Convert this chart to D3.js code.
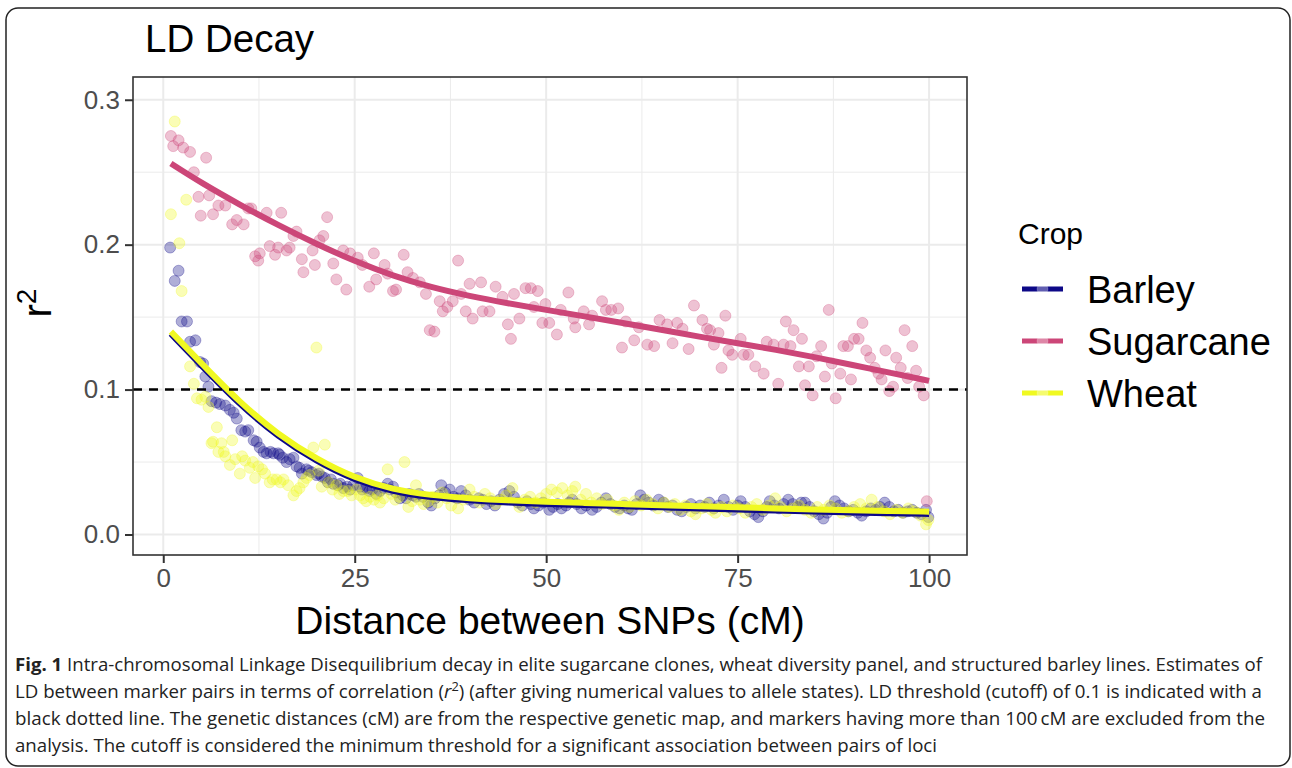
<!DOCTYPE html>
<html>
<head>
<meta charset="utf-8">
<script src="https://cdn.jsdelivr.net/npm/d3@7"></script>
<style>
  body { margin: 0; background: #fff; }
  svg { display: block; }
</style>
</head>
<body>
<svg id="svg" width="1292" height="768"></svg>
<script>
// data: [distance (cM), r2]
let barleyPts = [
  [0.9,0.198],[1.5,0.175],[2.0,0.182],[2.4,0.147],[3.1,0.147],[3.5,0.133],[4.2,0.134],[4.8,0.119],[5.2,0.118],[5.5,0.109],
  [5.9,0.102],[6.3,0.092],[6.9,0.091],[7.4,0.090],[8.1,0.089],[8.7,0.086],[9.2,0.084],[9.6,0.080],[10.2,0.072],[10.7,0.071],
  [11.1,0.072],[11.8,0.065],[12.2,0.064],[12.6,0.060],[13.1,0.057],[13.5,0.056],[14.0,0.057],[14.4,0.056],[15.0,0.056],[15.2,0.055],
  [15.6,0.053],[16.1,0.050],[16.5,0.052],[17.0,0.053],[17.4,0.047],[17.8,0.046],[18.1,0.042],[18.7,0.045],[19.0,0.044],[19.4,0.043],
  [20.0,0.041],[20.3,0.042],[20.7,0.040],[21.1,0.039],[21.5,0.036],[21.9,0.038],[22.2,0.035],[22.8,0.034],[23.1,0.035],[23.5,0.032],
  [24.0,0.033],[24.4,0.031],[24.8,0.034],[25.4,0.039],[25.7,0.033],[26.0,0.031],[26.5,0.032],[26.9,0.030],[27.3,0.031],[27.8,0.028],
  [28.3,0.030],[28.8,0.032],[29.3,0.035],[29.6,0.031],[30.0,0.033],[30.4,0.029],[30.9,0.025],[31.3,0.027],[31.7,0.025],[32.1,0.028],
  [32.6,0.027],[33.0,0.026],[33.4,0.028],[33.9,0.026],[34.6,0.022],[35.0,0.020],[35.5,0.025],[36.0,0.027],[36.3,0.034],[36.8,0.029],
  [37.4,0.031],[37.9,0.026],[38.4,0.025],[38.9,0.030],[39.5,0.027],[40.0,0.024],[40.6,0.022],[41.2,0.025],[41.7,0.024],[42.2,0.021],
  [42.8,0.023],[43.3,0.020],[43.9,0.024],[44.5,0.028],[45.2,0.030],[45.8,0.026],[46.3,0.022],[46.9,0.020],[47.5,0.023],[48.0,0.021],
  [48.4,0.018],[49.0,0.020],[49.6,0.022],[50.4,0.017],[50.9,0.019],[51.5,0.021],[52.0,0.018],[52.6,0.020],[53.0,0.022],[53.4,0.024],
  [54.0,0.021],[54.6,0.018],[55.2,0.020],[56.0,0.017],[56.6,0.019],[57.2,0.022],[57.8,0.025],[58.4,0.021],[59.0,0.019],[59.6,0.018],
  [60.2,0.020],[60.7,0.018],[61.2,0.017],[61.8,0.021],[62.3,0.027],[62.8,0.024],[63.4,0.022],[64.0,0.020],[64.7,0.024],[65.3,0.022],
  [65.9,0.019],[66.5,0.020],[67.1,0.017],[67.7,0.016],[68.3,0.019],[68.9,0.021],[69.5,0.018],[70.1,0.020],[70.7,0.019],[71.3,0.022],
  [71.9,0.018],[72.5,0.020],[73.2,0.024],[73.8,0.019],[74.4,0.017],[75.0,0.020],[75.4,0.023],[76.0,0.019],[76.6,0.016],[77.2,0.014],
  [77.7,0.012],[78.3,0.016],[78.8,0.019],[79.2,0.023],[79.8,0.020],[80.4,0.018],[81.0,0.021],[81.6,0.024],[82.2,0.021],[82.8,0.019],
  [83.3,0.022],[83.8,0.022],[84.4,0.019],[85.0,0.016],[85.6,0.014],[86.2,0.011],[86.7,0.015],[87.2,0.019],[87.7,0.023],[88.3,0.020],
  [88.9,0.018],[89.5,0.016],[90.1,0.017],[90.7,0.015],[91.2,0.013],[91.8,0.016],[92.4,0.018],[93.0,0.017],[93.6,0.019],[94.2,0.022],
  [94.8,0.019],[95.4,0.016],[96.0,0.017],[96.6,0.015],[97.2,0.016],[97.8,0.017],[98.4,0.015],[99.0,0.014],[99.6,0.017],[99.9,0.012]
];

let sugarcanePts = [
  [1.0,0.275],[1.3,0.268],[2.0,0.272],[2.6,0.267],[3.5,0.264],[4.0,0.250],[4.6,0.233],[4.9,0.220],[5.6,0.260],[6.0,0.234],
  [6.5,0.221],[7.2,0.227],[8.1,0.227],[9.0,0.214],[9.6,0.217],[10.5,0.214],[11.1,0.225],[11.5,0.225],[12.0,0.192],[12.4,0.189],
  [12.6,0.194],[13.5,0.222],[13.9,0.199],[14.6,0.193],[15.0,0.198],[15.4,0.222],[16.1,0.196],[16.5,0.198],[17.0,0.206],[17.4,0.209],
  [18.1,0.190],[18.3,0.181],[19.5,0.196],[19.8,0.186],[20.4,0.203],[20.9,0.206],[21.4,0.219],[22.2,0.187],[22.6,0.176],[23.5,0.196],
  [23.9,0.169],[24.4,0.194],[25.4,0.191],[26.0,0.186],[26.9,0.171],[27.5,0.194],[27.8,0.176],[28.9,0.186],[29.3,0.180],[30.0,0.168],
  [30.4,0.169],[31.4,0.193],[31.9,0.181],[32.6,0.177],[33.5,0.174],[34.3,0.166],[34.8,0.141],[35.4,0.140],[36.1,0.161],[36.5,0.154],
  [37.1,0.157],[37.8,0.161],[38.5,0.189],[38.9,0.166],[39.5,0.154],[40.0,0.173],[40.4,0.149],[41.5,0.174],[41.7,0.154],[42.6,0.154],
  [43.4,0.171],[44.3,0.164],[45.0,0.145],[45.4,0.135],[45.8,0.166],[46.5,0.149],[47.3,0.170],[48.0,0.170],[48.4,0.157],[48.9,0.168],
  [49.5,0.146],[49.9,0.159],[50.4,0.146],[51.4,0.138],[51.9,0.155],[52.9,0.167],[53.6,0.149],[53.8,0.143],[54.9,0.154],[55.6,0.145],
  [56.0,0.151],[57.3,0.161],[57.8,0.155],[58.5,0.155],[59.4,0.156],[59.9,0.129],[60.4,0.147],[61.5,0.134],[62.1,0.143],[63.2,0.131],
  [64.1,0.130],[64.8,0.148],[65.8,0.145],[66.5,0.132],[67.1,0.146],[67.8,0.142],[68.6,0.128],[69.3,0.158],[70.4,0.148],[71.0,0.142],
  [71.4,0.141],[71.9,0.131],[72.5,0.139],[72.9,0.115],[73.4,0.151],[73.8,0.127],[74.3,0.124],[75.4,0.135],[75.8,0.124],[76.4,0.124],
  [77.3,0.116],[78.4,0.111],[78.8,0.133],[79.7,0.131],[80.3,0.104],[81.0,0.131],[81.3,0.147],[81.9,0.130],[82.3,0.141],[83.0,0.116],
  [83.4,0.135],[83.8,0.103],[84.3,0.116],[84.8,0.096],[85.3,0.123],[85.9,0.130],[86.4,0.109],[86.9,0.155],[87.3,0.118],[87.8,0.094],
  [88.4,0.111],[88.8,0.130],[89.4,0.130],[89.8,0.107],[90.2,0.135],[90.8,0.135],[91.3,0.146],[91.8,0.127],[92.3,0.122],[92.9,0.115],
  [93.4,0.111],[93.8,0.107],[94.3,0.127],[94.8,0.099],[95.3,0.102],[95.7,0.122],[96.3,0.115],[96.8,0.141],[97.2,0.108],[97.8,0.130],
  [98.3,0.113],[98.7,0.102],[99.3,0.096],[99.7,0.023]
];

let wheatPts = [
  [1.0,0.221],[1.5,0.285],[2.1,0.201],[2.4,0.168],[3.0,0.231],[3.5,0.116],[4.0,0.104],[4.4,0.094],[5.0,0.093],[5.5,0.095],
  [5.9,0.088],[6.3,0.063],[6.5,0.064],[7.0,0.074],[7.2,0.057],[7.6,0.063],[7.9,0.057],[8.1,0.054],[8.7,0.048],[9.0,0.065],
  [9.4,0.052],[10.0,0.042],[10.3,0.054],[10.7,0.051],[11.3,0.046],[11.7,0.050],[12.0,0.039],[12.4,0.047],[12.9,0.045],[13.3,0.042],
  [13.9,0.036],[14.3,0.038],[14.8,0.038],[15.3,0.036],[15.7,0.038],[16.3,0.034],[17.0,0.027],[17.4,0.030],[17.8,0.032],[18.3,0.036],
  [18.7,0.039],[19.1,0.041],[19.6,0.060],[20.0,0.129],[20.3,0.044],[20.7,0.033],[21.1,0.062],[21.6,0.036],[22.1,0.031],[22.6,0.034],
  [23.0,0.028],[23.5,0.030],[24.1,0.030],[24.6,0.027],[25.2,0.031],[25.7,0.027],[26.1,0.025],[26.5,0.023],[27.0,0.026],[27.5,0.024],
  [28.0,0.027],[28.3,0.022],[28.8,0.025],[29.3,0.045],[29.8,0.028],[30.3,0.024],[30.8,0.026],[31.5,0.050],[32.0,0.019],[32.5,0.023],
  [33.0,0.034],[33.5,0.024],[34.0,0.021],[34.6,0.023],[35.2,0.026],[35.8,0.022],[36.4,0.029],[37.0,0.025],[37.6,0.020],[38.5,0.018],
  [39.2,0.024],[40.0,0.031],[40.6,0.026],[41.3,0.022],[42.0,0.028],[42.7,0.025],[43.4,0.021],[44.1,0.024],[44.8,0.027],[45.6,0.032],
  [46.5,0.019],[47.2,0.024],[47.9,0.026],[48.6,0.022],[49.3,0.025],[50.0,0.028],[50.7,0.031],[51.4,0.029],[52.1,0.032],[52.8,0.027],
  [53.4,0.030],[53.8,0.033],[54.5,0.024],[55.2,0.028],[55.9,0.022],[56.6,0.025],[57.3,0.021],[58.0,0.024],[58.8,0.020],[59.5,0.017],
  [60.2,0.022],[60.9,0.019],[61.6,0.023],[62.4,0.020],[63.1,0.024],[63.9,0.021],[64.6,0.018],[65.4,0.022],[66.1,0.019],[66.8,0.021],
  [67.5,0.017],[68.2,0.020],[68.9,0.016],[69.5,0.014],[70.3,0.018],[71.0,0.021],[71.6,0.017],[72.1,0.015],[72.9,0.019],[73.6,0.016],
  [74.4,0.020],[75.2,0.018],[76.0,0.015],[76.8,0.019],[77.5,0.021],[78.3,0.017],[79.1,0.020],[79.9,0.025],[80.6,0.019],[81.4,0.016],
  [82.2,0.018],[83.0,0.020],[83.8,0.017],[84.6,0.015],[85.4,0.019],[86.2,0.017],[87.0,0.020],[87.8,0.018],[88.6,0.015],[89.4,0.016],
  [90.2,0.019],[91.0,0.021],[91.8,0.018],[92.5,0.024],[93.3,0.019],[94.1,0.016],[94.9,0.014],[95.7,0.017],[96.5,0.015],[97.3,0.018],
  [98.1,0.016],[98.9,0.013],[99.6,0.007],[99.9,0.010]
];

// fitted (loess) curves
let fitX = [1, 5, 10, 15, 20, 25, 30, 35, 40, 45, 50, 55, 60, 65, 70, 75, 80, 85, 90, 95, 100];
let barleyFit = [0.1385, 0.1165, 0.0895, 0.0675, 0.0505, 0.0375, 0.0295, 0.0255, 0.0235, 0.022, 0.021, 0.0203, 0.0195, 0.0187, 0.018, 0.0173, 0.0165, 0.0158, 0.0152, 0.0147, 0.0142];
let sugarcaneFit = [0.256, 0.2425, 0.2275, 0.2135, 0.2005, 0.1885, 0.1785, 0.1705, 0.1645, 0.1595, 0.155, 0.1505, 0.146, 0.1413, 0.1365, 0.132, 0.1275, 0.1225, 0.117, 0.1115, 0.106];
let wheatFit = [0.140, 0.118, 0.091, 0.069, 0.052, 0.039, 0.031, 0.027, 0.025, 0.0235, 0.0226, 0.0218, 0.021, 0.0202, 0.0195, 0.0188, 0.018, 0.0173, 0.0167, 0.0162, 0.0157];

let crops = ['Barley', 'Sugarcane', 'Wheat'];
let cropColors = ['#0D0887', '#CC4678', '#F0F921'];
let xTicks = [0, 25, 50, 75, 100];
let yTicks = [0, 0.1, 0.2, 0.3];
let cutoff = 0.1;

let captionLines = [
  'Intra-chromosomal Linkage Disequilibrium decay in elite sugarcane clones, wheat diversity panel, and structured barley lines. Estimates of',
  'LD between marker pairs in terms of correlation (',
  'black dotted line. The genetic distances (cM) are from the respective genetic map, and markers having more than 100\u2009cM are excluded from the',
  'analysis. The cutoff is considered the minimum threshold for a significant association between pairs of loci'
];

let svg = d3.select('#svg');
let font = 'Liberation Sans, Arial, Helvetica, sans-serif';

// panel box
let panel = { l: 133, r: 967, t: 77, b: 555 };

let xScale = d3.scaleLinear().domain([-3.95, 104.95]).range([panel.l, panel.r]);
let yScale = d3.scaleLinear().domain([-0.01415, 0.3157]).range([panel.b, panel.t]);
let color = d3.scaleOrdinal().domain(crops).range(cropColors);

// outer frame
svg.append('rect')
    .attr('x', 6).attr('y', 8)
    .attr('width', 1284).attr('height', 758)
    .attr('rx', 12)
    .attr('fill', 'none')
    .attr('stroke', '#222')
    .attr('stroke-width', 1.5);

// grid lines
let gridG = svg.append('g');
let minorX = [12.5, 37.5, 62.5, 87.5];
let minorY = [0.05, 0.15, 0.25];
gridG.selectAll('.minor-x').data(minorX).enter().append('line')
    .attr('x1', d => xScale(d)).attr('x2', d => xScale(d))
    .attr('y1', panel.t).attr('y2', panel.b)
    .attr('stroke', '#EBEBEB').attr('stroke-width', 1);
gridG.selectAll('.minor-y').data(minorY).enter().append('line')
    .attr('y1', d => yScale(d)).attr('y2', d => yScale(d))
    .attr('x1', panel.l).attr('x2', panel.r)
    .attr('stroke', '#EBEBEB').attr('stroke-width', 1);
gridG.selectAll('.major-x').data(xTicks).enter().append('line')
    .attr('x1', d => xScale(d)).attr('x2', d => xScale(d))
    .attr('y1', panel.t).attr('y2', panel.b)
    .attr('stroke', '#EBEBEB').attr('stroke-width', 2);
gridG.selectAll('.major-y').data(yTicks).enter().append('line')
    .attr('y1', d => yScale(d)).attr('y2', d => yScale(d))
    .attr('x1', panel.l).attr('x2', panel.r)
    .attr('stroke', '#EBEBEB').attr('stroke-width', 2);

// points
let allPts = [barleyPts, sugarcanePts, wheatPts];
let ptsG = svg.append('g');
allPts.forEach((pts, i) => {
    ptsG.append('g').selectAll('circle')
        .data(pts)
        .enter().append('circle')
        .attr('cx', d => xScale(d[0]))
        .attr('cy', d => yScale(d[1]))
        .attr('r', 5.5)
        .attr('fill', cropColors[i])
        .attr('fill-opacity', 0.33)
        .attr('stroke', cropColors[i])
        .attr('stroke-opacity', 0.3)
        .attr('stroke-width', 1);
});

// smoothing lines
let line = d3.line()
    .x(d => xScale(d[0]))
    .y(d => yScale(d[1]))
    .curve(d3.curveBasis);
[barleyFit, sugarcaneFit, wheatFit].forEach((fit, i) => {
    svg.append('path')
        .datum(fitX.map((x, j) => [x, fit[j]]))
        .attr('d', line)
        .attr('fill', 'none')
        .attr('stroke', cropColors[i])
        .attr('stroke-width', 6);
});

// cutoff
svg.append('line')
    .attr('x1', panel.l).attr('x2', panel.r)
    .attr('y1', yScale(cutoff)).attr('y2', yScale(cutoff))
    .attr('stroke', '#000')
    .attr('stroke-width', 2.5)
    .attr('stroke-dasharray', '9,7');

// panel border
svg.append('rect')
    .attr('x', panel.l).attr('y', panel.t)
    .attr('width', panel.r - panel.l).attr('height', panel.b - panel.t)
    .attr('fill', 'none')
    .attr('stroke', '#333')
    .attr('stroke-width', 1.6);

// axes
let xAxis = d3.axisBottom(xScale).tickValues(xTicks).tickSize(8).tickPadding(6).tickFormat(d3.format('d'));
let yAxis = d3.axisLeft(yScale).tickValues(yTicks).tickSize(8).tickPadding(5).tickFormat(d3.format('.1f'));

let xAxisG = svg.append('g')
    .attr('transform', 'translate(0,' + panel.b + ')')
    .call(xAxis);
let yAxisG = svg.append('g')
    .attr('transform', 'translate(' + panel.l + ',0)')
    .call(yAxis);

[xAxisG, yAxisG].forEach((g) => {
    g.select('.domain').remove();
    g.selectAll('.tick line').attr('stroke', '#333').attr('stroke-width', 2);
    g.selectAll('.tick text')
        .attr('fill', '#4D4D4D')
        .style('font-family', font)
        .style('font-size', '26px');
});

// titles
svg.append('text')
    .attr('x', 145).attr('y', 52)
    .text('LD Decay')
    .style('font-family', font)
    .style('font-size', '38.5px')
    .attr('fill', '#000');

svg.append('text')
    .attr('x', (panel.l + panel.r) / 2).attr('y', 634)
    .attr('text-anchor', 'middle')
    .text('Distance between SNPs (cM)')
    .style('font-family', font)
    .style('font-size', '39px')
    .attr('fill', '#000');

let yTitle = svg.append('text')
    .attr('transform', 'translate(51,303) rotate(-90)')
    .attr('text-anchor', 'middle')
    .style('font-family', font)
    .style('font-size', '40px')
    .attr('fill', '#000');
yTitle.append('tspan').text('r');
yTitle.append('tspan').attr('dy', -15).style('font-size', '28px').text('2');

// legend
let legendG = svg.append('g');
legendG.append('text')
    .attr('x', 1018).attr('y', 244)
    .text('Crop')
    .style('font-family', font)
    .style('font-size', '30px')
    .attr('fill', '#000');

let keyY = [289, 341, 393];
crops.forEach((crop, i) => {
    legendG.append('line')
        .attr('x1', 1022).attr('x2', 1063)
        .attr('y1', keyY[i]).attr('y2', keyY[i])
        .attr('stroke', color(crop))
        .attr('stroke-width', 5);
    legendG.append('circle')
        .attr('cx', 1042.5).attr('cy', keyY[i])
        .attr('r', 5.5)
        .attr('fill', '#fff')
        .attr('fill-opacity', 0.35)
        .attr('stroke', '#fff')
        .attr('stroke-opacity', 0.2);
    legendG.append('text')
        .attr('x', 1087).attr('y', keyY[i] + 13.5)
        .text(crop)
        .style('font-family', font)
        .style('font-size', '38px')
        .attr('fill', '#000');
});

// caption
let capFont = 'Open Sans, Noto Sans, sans-serif';
let capX = 15;
let capBase = [671, 698, 725, 752];
let capLen = [1247, 1247, 1250, 922];

let cap1 = svg.append('text')
    .attr('x', capX).attr('y', capBase[0])
    .attr('textLength', capLen[0]).attr('lengthAdjust', 'spacingAndGlyphs')
    .style('font-family', capFont).style('font-size', '17.5px').attr('fill', '#222');
cap1.append('tspan').style('font-weight', 'bold').text('Fig. 1');
cap1.append('tspan').text(' ' + captionLines[0]);

let cap2 = svg.append('text')
    .attr('x', capX).attr('y', capBase[1])
    .attr('textLength', capLen[1]).attr('lengthAdjust', 'spacingAndGlyphs')
    .style('font-family', capFont).style('font-size', '17.5px').attr('fill', '#222');
cap2.append('tspan').text(captionLines[1]);
cap2.append('tspan').style('font-style', 'italic').text('r');
cap2.append('tspan').attr('dy', -7).style('font-size', '12px').text('2');
cap2.append('tspan').attr('dy', 7).text(') (after giving numerical values to allele states). LD threshold (cutoff) of 0.1 is indicated with a');

[2, 3].forEach((i) => {
    svg.append('text')
        .attr('x', capX).attr('y', capBase[i])
        .attr('textLength', capLen[i]).attr('lengthAdjust', 'spacingAndGlyphs')
        .style('font-family', capFont).style('font-size', '17.5px').attr('fill', '#222')
        .text(captionLines[i]);
});
</script>
</body>
</html>
